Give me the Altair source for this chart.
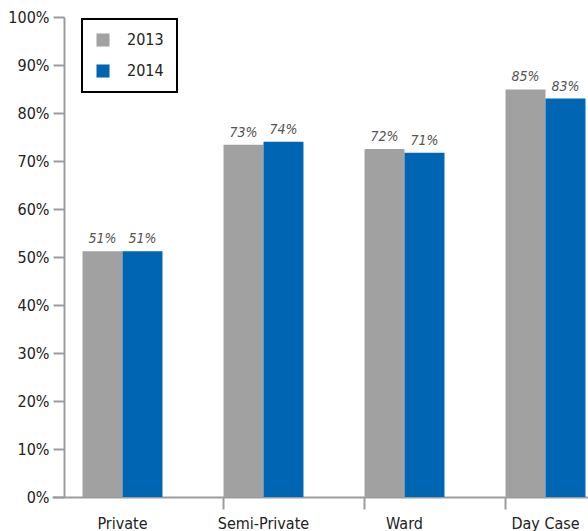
import altair as alt
import pandas as pd

categories = ["Private", "Semi-Private", "Ward", "Day Case"]
years = ["2013", "2014"]
values_2013 = [0.512, 0.734, 0.725, 0.849]
values_2014 = [0.512, 0.740, 0.717, 0.830]
labels_2013 = ["51%", "73%", "72%", "85%"]
labels_2014 = ["51%", "74%", "71%", "83%"]

rows = []
for c, v, l in zip(categories, values_2013, labels_2013):
    rows.append({"category": c, "year": "2013", "value": v, "label": l})
for c, v, l in zip(categories, values_2014, labels_2014):
    rows.append({"category": c, "year": "2014", "value": v, "label": l})
df = pd.DataFrame(rows)

FONT = "DejaVu Sans Condensed, Liberation Sans, sans-serif"
GRAY = "#a0a1a0"
BLUE = "#0066b3"
AXIS_GRAY = "#9c9c9c"

x = alt.X(
    "category:N",
    sort=categories,
    scale=alt.Scale(range=[0, 564], paddingInner=0.433, paddingOuter=0.2165),
    axis=alt.Axis(
        title=None,
        labelAngle=0,
        labelFont=FONT,
        labelFontSize=16,
        labelColor="#222222",
        labelPadding=6,
        bandPosition=0,
        tickSize=12,
        tickWidth=2,
        tickColor=alt.condition("datum.value == 'Private'", alt.value("transparent"), alt.value(AXIS_GRAY)),
        domainColor=AXIS_GRAY,
        domainWidth=2,
        labelBound=False,
    ),
)

bars = alt.Chart(df).mark_bar(clip=True).encode(
    x=x,
    xOffset=alt.XOffset("year:N", sort=years),
    y=alt.Y(
        "value:Q",
        scale=alt.Scale(domain=[0, 1], nice=False),
        axis=alt.Axis(
            title=None,
            format=".0%",
            values=[i / 10 for i in range(11)],
            grid=False,
            offset=-12,
            tickSize=11,
            tickWidth=2,
            tickColor=AXIS_GRAY,
            domainColor=AXIS_GRAY,
            domainWidth=2,
            labelFont=FONT,
            labelFontSize=16,
            labelColor="#222222",
            labelPadding=4,
        ),
    ),
    color=alt.Color(
        "year:N",
        sort=years,
        scale=alt.Scale(domain=years, range=[GRAY, BLUE]),
        legend=alt.Legend(
            title=None,
            orient="none",
            legendX=30,
            legendY=2,
            symbolType="square",
            symbolSize=170,
            symbolStrokeWidth=0,
            labelFont=FONT,
            labelFontSize=16,
            labelColor="#222222",
            labelOffset=16,
            rowPadding=15,
            padding=13,
            strokeColor="black",
            fillColor="white",
        ),
    ),
)

texts = alt.Chart(df).mark_text(
    baseline="alphabetic",
    dy=-8,
    font=FONT,
    fontSize=14,
    fontStyle="italic",
    color="#555555",
    clip=True,
).encode(
    x=x,
    xOffset=alt.XOffset("year:N", sort=years),
    y="value:Q",
    text="label:N",
)

chart = alt.layer(bars, texts).properties(
    width=536,
    height=480,
    autosize=alt.AutoSizeParams(type="none"),
    padding={"left": 52, "top": 17, "right": 0, "bottom": 34},
).configure_view(stroke=None).configure_scale(
    bandPaddingInner=0, bandPaddingOuter=0
).configure_legend(strokeWidth=2)

chart.save("out.html", embed_options={"renderer": "svg", "actions": False})
